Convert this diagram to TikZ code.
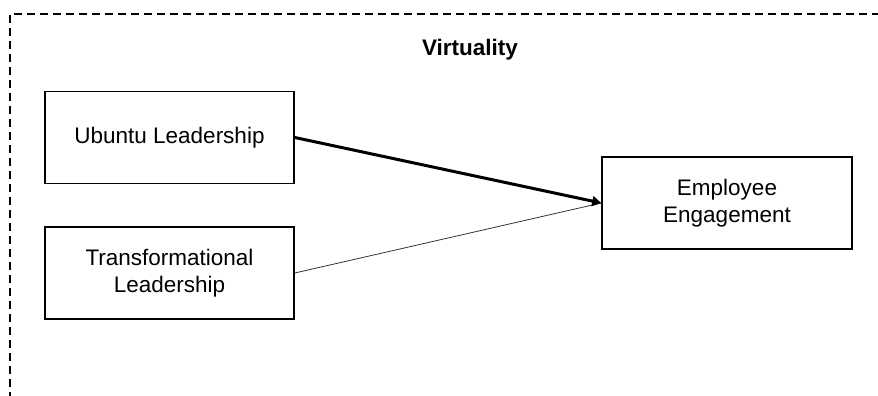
\documentclass[tikz,border=0pt]{standalone}
\usepackage{fontspec}
\setmainfont{Liberation Sans}
\usetikzlibrary{arrows.meta}
\begin{document}
\begin{tikzpicture}[x=1pt,y=-1pt,
  box/.style={draw=black,line width=1.6pt,rectangle,inner sep=0pt,
    minimum width=249pt,minimum height=92pt,align=center,
    font=\fontsize{22.5}{27}\selectfont},
  border/.style={draw=black,line width=1.8pt,dash pattern=on 8pt off 5pt},
  strong/.style={draw=black,line width=3pt,-{Triangle[length=9pt,width=10pt]}},
  weak/.style={draw=black!80,line width=0.8pt}]
\useasboundingbox (0,0) rectangle (878,396);
\coordinate (tr) at (880,14);
\coordinate (tl) at (10,14);
\coordinate (bl) at (10,398);
\draw[border] (tr) -- (tl) -- (bl);
\node[font=\bfseries\fontsize{22.5}{27}\selectfont] (v) at (470,50) {Virtuality};
\node[box] (u) at (169.5,137.5) {Ubuntu Leadership};
\node[box] (t) at (169.5,273) {Transformational\\Leadership};
\node[box,minimum width=250pt] (e) at (727,203) {Employee\\Engagement};
\draw[weak] (t.east) -- (e.west);
\draw[strong] (u.east) -- (e.west);
\end{tikzpicture}
\end{document}
